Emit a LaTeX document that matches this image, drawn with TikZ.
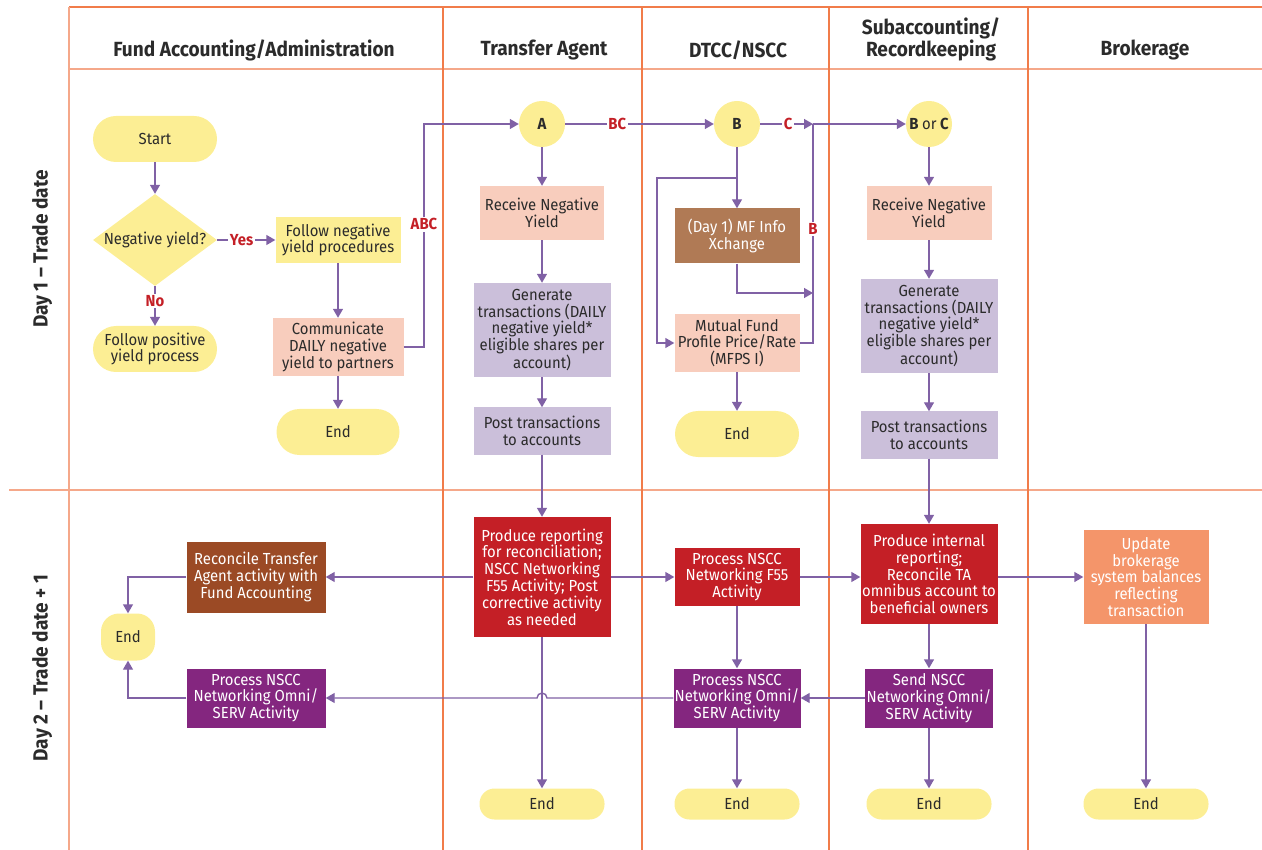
\documentclass[tikz,border=0pt]{standalone}
\usepackage{fontspec}
\setmainfont[FakeStretch=0.93]{Fira Sans}
\usetikzlibrary{arrows.meta,shapes.geometric}

\definecolor{laneorange}{RGB}{241,124,74}
\definecolor{lanelight}{RGB}{245,168,138}
\definecolor{pillyellow}{RGB}{252,238,148}
\definecolor{peachfill}{RGB}{248,205,189}
\definecolor{lavfill}{RGB}{203,191,218}
\definecolor{redfill}{RGB}{196,31,38}
\definecolor{purpfill}{RGB}{132,38,127}
\definecolor{browndark}{RGB}{155,74,37}
\definecolor{brownlight}{RGB}{176,122,85}
\definecolor{salmonfill}{RGB}{244,149,106}
\definecolor{flowpurple}{RGB}{128,97,165}
\definecolor{lblred}{RGB}{196,31,38}
\definecolor{txtgray}{RGB}{43,43,43}

\tikzset{
  lane/.style={laneorange, line width=1.8pt},
  lanelt/.style={lanelight, line width=1.8pt},
  head/.style={font=\bfseries\fontsize{20.5}{22}\selectfont, text=txtgray, align=center},
  flow/.style={align=center, inner sep=0pt, font=\fontsize{16}{16.8}\selectfont, text=txtgray},
  pill/.style={flow, fill=pillyellow, rounded corners=23pt, minimum width=124pt, minimum height=46pt},
  endpill/.style={flow, fill=pillyellow, rounded corners=15pt, minimum width=125pt, minimum height=31pt},
  decision/.style={flow, fill=pillyellow, diamond, shape aspect=1.35, minimum width=124pt, minimum height=92pt},
  circ/.style={flow, fill=pillyellow, circle, minimum size=46pt, font=\bfseries\fontsize{16}{17}\selectfont},
  yelbox/.style={flow, fill=pillyellow, minimum width=125pt, minimum height=46pt},
  peach/.style={flow, fill=peachfill, minimum width=124pt, minimum height=54pt},
  lav/.style={flow, fill=lavfill, minimum width=137pt, minimum height=94pt},
  redbox/.style={flow, fill=redfill, text=white, minimum width=137pt},
  purp/.style={flow, fill=purpfill, text=white, minimum width=127pt, minimum height=59pt},
  conn/.style={flowpurple, line width=1.4pt, -{Triangle[width=10pt,length=9pt]}},
  link/.style={flowpurple, line width=1.4pt},
  lbl/.style={font=\bfseries\fontsize{16}{17}\selectfont, text=lblred, fill=white, inner sep=1.5pt}
}

\begin{document}
\begin{tikzpicture}[x=1pt,y=-1pt]
\useasboundingbox (0,0) rectangle (1262,850);
% swim lanes
\draw[lane] (69,7) -- (1262,7);
\draw[lanelt] (69,69) -- (1262,69);
\draw[lanelt] (9,490) -- (1262,490);
\draw[lanelt] (69,7) -- (69,850);
\draw[lane] (443,7) -- (443,850);
\draw[lane] (642,7) -- (642,850);
\draw[lane] (829,7) -- (829,850);
\draw[lane] (1028,7) -- (1028,850);
\node[head] (H1) at (254,50){Fund Accounting/Administration};
\node[head] (H2) at (544,50){Transfer Agent};
\node[head] (H3) at (738,50){DTCC/NSCC};
\node[head] (H4) at (931,39){Subaccounting/\\Recordkeeping};
\node[head] (H5) at (1145,50){Brokerage};
\node[head, rotate=90] (R1) at (42,249){Day 1 -- Trade date};
\node[head, rotate=90] (R2) at (42,668){Day 2 -- Trade date + 1};
% fund accounting, day 1
\node[pill] (A) at (155,139){Start};
\node[decision] (B) at (155,240){Negative yield?};
\node[pill] (C) at (155,349){Follow positive\\yield process};
\node[yelbox] (D) at (338,240){Follow negative\\yield procedures};
\node[peach, minimum width=131pt, minimum height=58pt] (E) at (338,347){Communicate\\DAILY negative\\yield to partners};
\node[pill, minimum width=123pt] (F) at (338,432){End};
\draw[conn] (A) -- (B);
\draw[conn] (B) -- node[lbl, pos=0.38]{No} (C);
\draw[conn] (B) -- node[lbl, pos=0.42]{Yes} (D);
\draw[conn] (D) -- (E);
\draw[conn] (E) -- (F);
% transfer agent
\node[circ] (G) at (542,124){A};
\node[peach] (H) at (542,213){Receive Negative\\Yield};
\node[lav] (I) at (542,330){Generate\\transactions (DAILY\\negative yield*\\eligible shares per\\account)};
\node[lav, minimum height=47pt] (J) at (542,431){Post transactions\\to accounts};
\node[redbox, minimum height=120pt] (K) at (542,577){Produce reporting\\for reconciliation;\\NSCC Networking\\F55 Activity; Post\\corrective activity\\as needed};
\node[endpill] (L) at (542,804){End};
\draw[conn] (E.east) -- (424,347) -- node[lbl, pos=0.55]{ABC} (424,124) -- (G);
\draw[conn] (G) -- (H);
\draw[conn] (H) -- (I);
\draw[conn] (I) -- (J);
\draw[conn] (J) -- (K);
\draw[conn] (K) -- (L);
% dtcc/nscc
\node[circ] (M) at (737,124){B};
\node[flow, fill=brownlight, text=white, minimum width=125pt, minimum height=55pt] (N) at (737,236){(Day 1) MF Info\\Xchange};
\node[peach, minimum width=125pt, minimum height=58pt] (O) at (737,343){Mutual Fund\\Profile Price/Rate\\(MFPS I)};
\node[pill] (P) at (737,434){End};
\coordinate (Q) at (813,124);
\coordinate (q1) at (737,178);
\coordinate (q2) at (813,293);
\node[redbox, minimum width=125pt, minimum height=58pt] (R) at (737,577){Process NSCC\\Networking F55\\Activity};
\node[purp] (T) at (737,698){Process NSCC\\Networking Omni/\\SERV Activity};
\node[endpill] (U) at (737,804){End};
\draw[conn] (G) -- node[lbl, pos=0.35]{BC} (M);
\draw[conn] (M) -- node[lbl, pos=0.53]{C} (Q);
\draw[conn] (M) -- (N);
\draw[conn] (q1) -- (657,178) -- (657,343) -- (O.west);
\draw[conn] (N.south) |- (q2);
\draw[link] (O.east) -| node[lbl, pos=0.76]{B} (Q);
\draw[conn] (O) -- (P);
\draw[conn] (K) -- (R);
\draw[conn] (R) -- (T);
\draw[conn] (T) -- (U);
% subaccounting/recordkeeping
\node[circ] (S) at (929,124){B {\mdseries or} C};
\node[peach, minimum width=125pt] (V) at (929,213){Receive Negative\\Yield};
\node[lav] (W) at (929,326){Generate\\transactions (DAILY\\negative yield*\\eligible shares per\\account)};
\node[lav, minimum height=47pt] (X) at (929,435){Post transactions\\to accounts};
\node[redbox, minimum height=100pt] (Y) at (929,574){Produce internal\\reporting;\\Reconcile TA\\omnibus account to\\beneficial owners};
\node[purp, minimum width=128pt] (Z) at (929,698){Send NSCC\\Networking Omni/\\SERV Activity};
\node[endpill] (a) at (929,804){End};
\draw[conn] (Q) -- (S);
\draw[conn] (S) -- (V);
\draw[conn] (V) -- (W);
\draw[conn] (W) -- (X);
\draw[conn] (X) -- (Y);
\draw[conn] (Y) -- (Z);
\draw[conn] (Z) -- (a);
\draw[conn] (R.east) -- (Y.west |- R.east);
\draw[conn] (Z) -- (T);
% brokerage
\node[flow, fill=salmonfill, text=white, minimum width=125pt, minimum height=94pt] (b) at (1146,577){Update\\brokerage\\system balances\\reflecting\\transaction};
\node[endpill] (c) at (1146,804){End};
\draw[conn] (Y.east |- b.west) -- (b.west);
\draw[conn] (b) -- (c);
% fund accounting, day 2
\node[flow, fill=browndark, text=white, minimum width=139pt, minimum height=71pt] (d) at (256,577){Reconcile Transfer\\Agent activity with\\Fund Accounting};
\node[purp, minimum width=139pt] (e) at (256,698){Process NSCC\\Networking Omni/\\SERV Activity};
\node[flow, fill=pillyellow, rounded corners=18pt, minimum width=54pt, minimum height=47pt] (f) at (128,637){End};
\coordinate (g) at (547,698);
\draw[conn] (K) -- (d);
\draw[conn] (d.west) -| (f);
\draw[conn] (e.west) -| (f);
\draw[conn] (T.west) -- (g) arc(0:-180:5) -- (e.east);
\end{tikzpicture}
\end{document}
